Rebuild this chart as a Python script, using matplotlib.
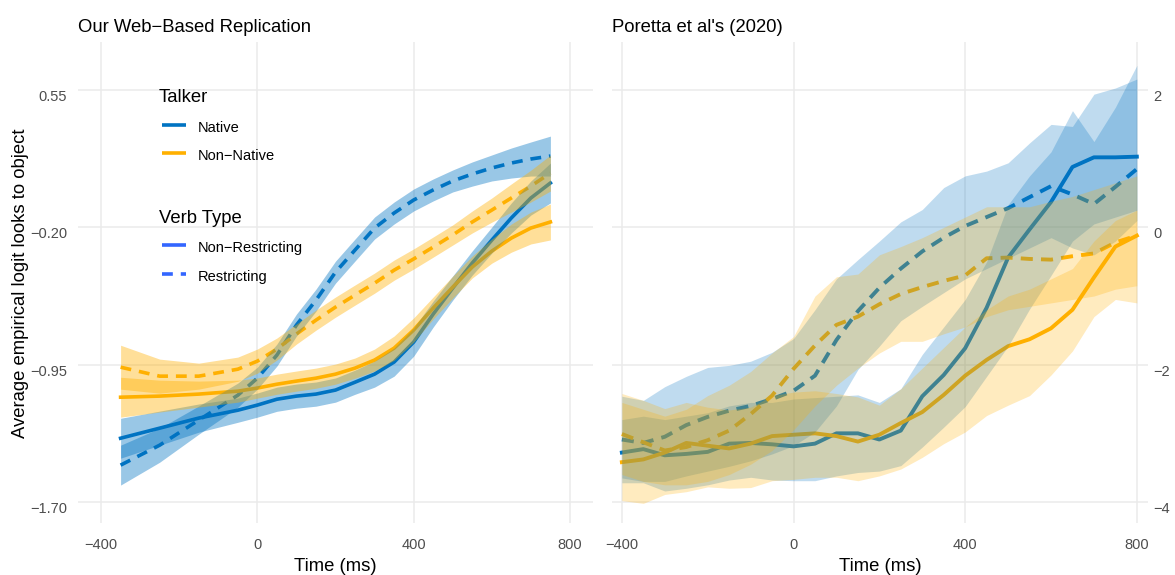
import numpy as np
import matplotlib
matplotlib.use("Agg")
import matplotlib.pyplot as plt
from matplotlib.lines import Line2D
from matplotlib.transforms import ScaledTranslation

plt.rcParams['font.family'] = ['Liberation Sans', 'DejaVu Sans']

M = '\u2212'  # the minus sign R uses in its labels

# ---- left panel: smoothed fits (web replication) ----
x_web = [-350, -250, -150, -50, 0, 50, 100, 150, 200, 250, 300, 350, 400,
         450, 500, 550, 600, 650, 700, 750]
web_nat_nr = [-1.352, -1.297, -1.242, -1.199, -1.171, -1.139, -1.122, -1.111, -1.089, -1.046,
              -1.002, -0.936, -0.827, -0.674, -0.532, -0.395, -0.270, -0.149, -0.040, 0.042]
web_nat_nr_se = [0.109, 0.093, 0.077, 0.066, 0.066, 0.066, 0.066, 0.066, 0.066, 0.066,
                 0.071, 0.077, 0.077, 0.071, 0.066, 0.066, 0.071, 0.082, 0.093, 0.109]
web_nat_r = [-1.499, -1.390, -1.253, -1.117, -1.024, -0.898, -0.734, -0.598, -0.445, -0.324,
             -0.204, -0.122, -0.051, 0.004, 0.053, 0.091, 0.124, 0.151, 0.173, 0.189]
web_nat_r_se = [0.109, 0.093, 0.077, 0.066, 0.060, 0.060, 0.060, 0.060, 0.060, 0.060,
                0.060, 0.060, 0.060, 0.060, 0.060, 0.066, 0.071, 0.082, 0.093, 0.109]
web_non_nr = [-1.128, -1.122, -1.111, -1.095, -1.078, -1.057, -1.040, -1.024, -1.002, -0.969,
              -0.925, -0.860, -0.761, -0.641, -0.527, -0.417, -0.330, -0.259, -0.204, -0.171]
web_non_nr_se = [0.109, 0.087, 0.071, 0.060, 0.055, 0.055, 0.055, 0.055, 0.055, 0.055,
                 0.060, 0.066, 0.066, 0.060, 0.060, 0.060, 0.066, 0.077, 0.087, 0.098]
web_non_r = [-0.964, -1.013, -1.013, -0.975, -0.931, -0.865, -0.783, -0.707, -0.636, -0.570,
             -0.505, -0.434, -0.373, -0.308, -0.242, -0.171, -0.106, -0.040, 0.025, 0.096]
web_non_r_se = [0.120, 0.093, 0.071, 0.066, 0.066, 0.060, 0.055, 0.055, 0.055, 0.055,
                0.055, 0.055, 0.055, 0.055, 0.055, 0.060, 0.066, 0.077, 0.087, 0.098]

# ---- right panel: Poretta et al. (2020) means with intervals ----
x_por = list(range(-400, 801, 50))
por_nat_nr = [-3.28, -3.23, -3.32, -3.30, -3.27, -3.15, -3.14, -3.16, -3.19, -3.15, -3.00, -3.00, -3.09,
              -2.96, -2.46, -2.15, -1.76, -1.17, -0.44, -0.03, 0.37, 0.88, 1.02, 1.02, 1.03]
por_nat_nr_lo = [-3.72, -3.72, -3.84, -3.80, -3.75, -3.68, -3.64, -3.68, -3.69, -3.69, -3.62, -3.57, -3.55,
                 -3.47, -3.20, -2.91, -2.61, -2.17, -1.73, -1.19, -0.70, -0.20, 0.05, 0.15, 0.25]
por_nat_nr_hi = [-2.80, -2.75, -2.80, -2.75, -2.70, -2.60, -2.55, -2.55, -2.50, -2.48, -2.46, -2.44, -2.55,
                 -2.35, -1.85, -1.45, -1.05, -0.50, 0.33, 0.75, 1.10, 1.70, 1.25, 1.75, 2.36]
por_nat_r = [-3.09, -3.14, -3.05, -2.88, -2.76, -2.67, -2.60, -2.50, -2.38, -2.16, -1.64, -1.22, -0.88,
             -0.60, -0.35, -0.15, 0.02, 0.15, 0.28, 0.44, 0.60, 0.48, 0.34, 0.59, 0.85]
por_nat_r_lo = [-3.65, -3.70, -3.70, -3.62, -3.55, -3.48, -3.40, -3.30, -3.18, -2.98, -2.60, -2.07, -1.73,
                -1.36, -1.15, -0.95, -0.75, -0.60, -0.45, -0.30, -0.15, -0.30, -0.40, -0.20, 0.10]
por_nat_r_hi = [-2.46, -2.52, -2.32, -2.17, -2.04, -2.01, -1.95, -1.82, -1.62, -1.20, -0.75, -0.47, -0.20,
                0.08, 0.26, 0.58, 0.75, 0.82, 0.94, 1.23, 1.50, 1.47, 1.94, 2.03, 2.16]
por_non_nr = [-3.42, -3.38, -3.28, -3.14, -3.18, -3.22, -3.15, -3.04, -3.02, -3.00, -3.04, -3.12, -3.02,
              -2.85, -2.69, -2.44, -2.16, -1.93, -1.73, -1.63, -1.47, -1.20, -0.73, -0.28, -0.12]
por_non_nr_lo = [-3.98, -4.02, -3.89, -3.85, -3.78, -3.80, -3.79, -3.69, -3.67, -3.64, -3.64, -3.69, -3.62,
                 -3.52, -3.35, -3.15, -2.98, -2.74, -2.59, -2.45, -2.15, -1.80, -1.30, -1.05, -1.10]
por_non_nr_hi = [-2.42, -2.52, -2.64, -2.55, -2.62, -2.66, -2.62, -2.45, -2.40, -2.38, -2.42, -2.47, -2.59,
                 -2.35, -2.05, -1.75, -1.45, -1.20, -1.00, -0.90, -0.75, -0.60, -0.20, 0.10, 0.25]
por_non_r = [-3.01, -3.13, -3.25, -3.20, -3.10, -2.96, -2.72, -2.45, -2.06, -1.72, -1.42, -1.30, -1.12,
             -0.97, -0.87, -0.78, -0.70, -0.45, -0.44, -0.46, -0.47, -0.42, -0.38, -0.22, -0.12]
por_non_r_lo = [-3.60, -3.70, -3.75, -3.75, -3.70, -3.60, -3.45, -3.25, -2.95, -2.60, -2.30, -2.05, -1.83,
                -1.66, -1.66, -1.55, -1.45, -1.30, -1.20, -1.15, -1.10, -1.05, -1.00, -0.90, -0.85]
por_non_r_hi = [-2.55, -2.65, -2.75, -2.65, -2.45, -2.30, -2.10, -1.83, -1.59, -1.00, -0.72, -0.68, -0.40,
                -0.28, -0.15, 0.00, 0.15, 0.30, 0.30, 0.30, 0.38, 0.45, 0.55, 0.65, 0.75]

x_ticks = [-400, 0, 400, 800]
web_yticks = [-1.70, -0.95, -0.20, 0.55]
por_yticks = [-4, -2, 0, 2]

BLUE = '#0073C2'
GOLD = '#FFB000'
KEY = '#3366FF'
W, H = 1175, 575


def box(x0, y0, x1, y1):
    return [x0 / W, 1 - y1 / H, (x1 - x0) / W, (y1 - y0) / H]


def lab(v, nd):
    s = f'{v:.{nd}f}'
    return s.replace('-', M)


fig = plt.figure(figsize=(11.75, 5.75), dpi=100)
ax1 = fig.add_axes(box(78, 42, 593, 523))
ax2 = fig.add_axes(box(612, 42, 1148, 523))

for ax in (ax1, ax2):
    for s in ax.spines.values():
        s.set_visible(False)
    ax.grid(True, color='#EBEBEB', linewidth=1.1)
    ax.set_axisbelow(True)
    ax.tick_params(length=0, labelsize=10.5, labelcolor='#4D4D4D')
    ax.tick_params(axis='x', pad=11)
    ax.set_xticks(x_ticks)
    ax.set_xticklabels([lab(v, 0) for v in x_ticks])
    ax.set_xlabel('Time (ms)', fontsize=13.3, labelpad=4)

# left panel: lines first, ribbons on top
xw = np.array(x_web)
dash_l = (0, (3.0, 2.2))
web = [(web_nat_nr, web_nat_nr_se, BLUE, '-'),
       (web_nat_r, web_nat_r_se, BLUE, dash_l),
       (web_non_nr, web_non_nr_se, GOLD, '-'),
       (web_non_r, web_non_r_se, GOLD, dash_l)]
for fit, se, c, ls in web:
    ax1.plot(xw, fit, color=c, lw=2.6, ls=ls, zorder=2)
for fit, se, c, ls in web:
    f = np.array(fit)
    e = np.array(se)
    ax1.fill_between(xw, f - e, f + e, color=c, alpha=0.4, lw=0, zorder=3)
ax1.set_xlim(-459, 859)
ax1.set_ylim(-1.815, 0.812)
ax1.set_yticks(web_yticks)
ax1.set_yticklabels([lab(v, 2) for v in web_yticks])
ax1.tick_params(axis='y', pad=8)

# right panel
xp = np.array(x_por)
dash_r = (0, (3.1, 2.1))
por = [(por_nat_nr, por_nat_nr_lo, por_nat_nr_hi, BLUE, '-'),
       (por_nat_r, por_nat_r_lo, por_nat_r_hi, BLUE, dash_r),
       (por_non_nr, por_non_nr_lo, por_non_nr_hi, GOLD, '-'),
       (por_non_r, por_non_r_lo, por_non_r_hi, GOLD, dash_r)]
for m, lo, hi, c, ls in por:
    ax2.plot(xp, m, color=c, lw=2.8, ls=ls, zorder=2)
for m, lo, hi, c, ls in por:
    ax2.fill_between(xp, lo, hi, color=c, alpha=0.25, lw=0, zorder=3)
ax2.set_xlim(-423, 826)
ax2.set_ylim(-4.306, 2.70)
ax2.yaxis.tick_right()
ax2.set_yticks(por_yticks)
ax2.set_yticklabels([lab(v, 0) for v in por_yticks])
ax2.tick_params(axis='y', pad=4)

# ggplot draws the y labels a little under the gridline
for ax in (ax1, ax2):
    for t in ax.get_yticklabels():
        t.set_transform(t.get_transform() + ScaledTranslation(0, -4 / 72, fig.dpi_scale_trans))

fig.text(78 / W, 1 - 27 / H, f'Our Web{M}Based Replication', fontsize=13.3, va='center')
fig.text(612 / W, 1 - 27 / H, "Poretta et al's (2020)", fontsize=13.3, va='center')
fig.text(21 / W, 1 - 283 / H, 'Average empirical logit looks to object',
         fontsize=13.3, rotation=90, ha='center', va='center')

# legend drawn inside the left panel
ax1.text(0.157, 0.884, 'Talker', transform=ax1.transAxes, fontsize=13.3, va='center')
ax1.text(0.157, 0.634, 'Verb Type', transform=ax1.transAxes, fontsize=13.3, va='center')
keys = [(0.827, 'Native', BLUE, '-'),
        (0.769, f'Non{M}Native', GOLD, '-'),
        (0.578, f'Non{M}Restricting', KEY, '-'),
        (0.518, 'Restricting', KEY, (0, (3.0, 2.2)))]
for fy, txt, c, ls in keys:
    ax1.add_line(Line2D([0.163, 0.210], [fy, fy], transform=ax1.transAxes, color=c,
                        lw=2.6, ls=ls, solid_capstyle='butt', dash_capstyle='butt', zorder=5))
    ax1.text(0.233, fy - 0.006, txt, transform=ax1.transAxes, fontsize=10.5, va='center')

fig.savefig('out.png', dpi=100)
